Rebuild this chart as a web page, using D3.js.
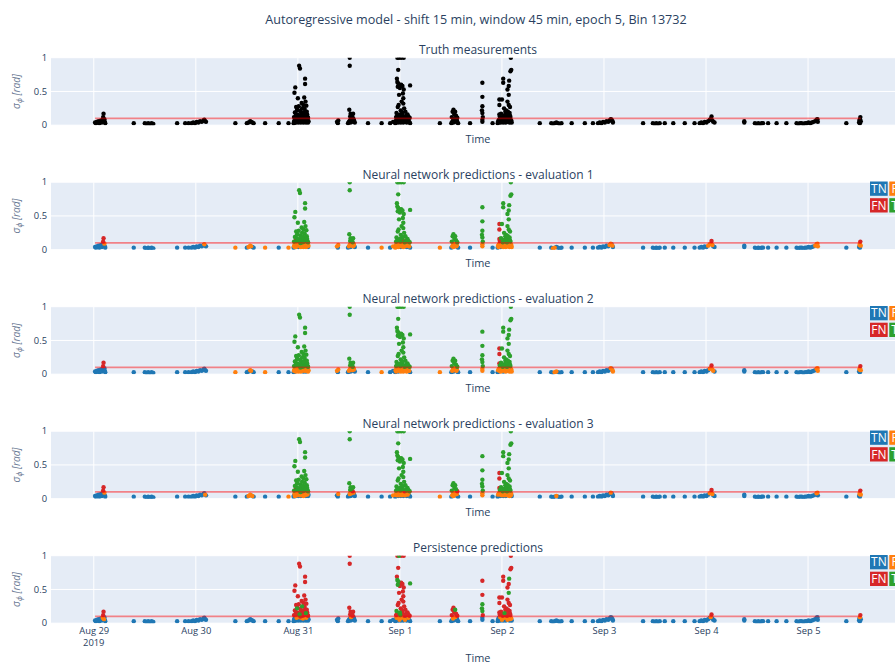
<!DOCTYPE html>
<html>
<head>
<meta charset="utf-8">
<script src="https://cdn.jsdelivr.net/npm/d3@7"></script>
<style>
  body { margin: 0; background: #fff; }
  svg { display: block; }
  text { font-family: "Open Sans", "Noto Sans", sans-serif; }
</style>
</head>
<body>
<svg id="chart" width="895" height="662"></svg>
<script>
// ---- chart text ----
const chartTitle = "Autoregressive model - shift 15 min, window 45 min, epoch 5, Bin 13732";
const panelTitles = [
  "Truth measurements",
  "Neural network predictions - evaluation 1",
  "Neural network predictions - evaluation 2",
  "Neural network predictions - evaluation 3",
  "Persistence predictions"
];
const threshold = 0.1;
const yTicks = [0, 0.5, 1];
const yTickLabels = ["0", "0.5", "1"];
const dayTicks = ["2019-08-29", "2019-08-30", "2019-08-31", "2019-09-01",
                  "2019-09-02", "2019-09-03", "2019-09-04", "2019-09-05"];

// outcome classes: code letter -> label / colour
const outcomeCodes = ["b", "o", "r", "g"];
const outcomeLabels = ["TN", "FP", "FN", "TP"];
const outcomeColors = ["#1f77b4", "#ff7f0e", "#d62728", "#2ca02c"];

// ---- samples: [hours after 2019-08-29 00:00 UTC, measured sigma_phi,
//      outcome in evaluation 1 / evaluation 2 / evaluation 3 / persistence] ----
const quietAug29 = [
  [0.3,0.04,"bbbb"],[0.5,0.03,"bbbb"],[0.7,0.05,"bbbb"],[0.9,0.04,"bbbb"],[1.1,0.06,"bbbb"],
  [1.3,0.03,"bbbb"],[1.5,0.05,"bbbb"],[1.7,0.07,"bbbb"],[1.9,0.04,"bbbb"],[2.1,0.08,"bbbo"],
  [2.2,0.12,"rrrr"],[2.3,0.17,"rrrr"],[2.4,0.06,"bbbo"],[2.5,0.09,"obob"],[2.6,0.05,"bbbb"],
  [2.7,0.03,"bbbb"],
  [9.4,0.03,"bbbb"],
  [12.0,0.03,"bbbb"],[12.4,0.02,"bbbb"],[12.8,0.03,"bbbb"],[13.2,0.02,"bbbb"],[13.6,0.03,"bbbb"],[14.0,0.02,"bbbb"],
  [19.6,0.03,"bbbb"],[21.5,0.03,"bbbb"],[22.3,0.03,"bbbb"],
  [23.0,0.03,"bbbb"],[23.4,0.04,"bbbb"],[23.8,0.03,"bbbb"],[24.2,0.05,"bbbb"],[24.6,0.04,"bbbb"],
  [25.0,0.06,"bbbb"],[25.4,0.05,"bbbb"],[25.8,0.07,"bbbb"],[26.0,0.08,"obbb"],[26.2,0.06,"bbob"],[26.4,0.05,"bbbb"],
  [33.3,0.03,"oobb"],
  [36.0,0.03,"bbbb"],[36.4,0.04,"obob"],[36.8,0.06,"ooob"],[37.0,0.05,"oobb"],[37.3,0.04,"bbob"],[37.6,0.03,"bbbb"],
  [40.3,0.03,"oobb"],[43.5,0.03,"bbbb"],[45.8,0.03,"obob"]
];

const stormAug31 = [
  [47.0,0.03,"bbbb"],[47.1,0.05,"oobb"],[47.1,0.12,"gggr"],[47.2,0.48,"gggr"],[47.2,0.07,"ooob"],
  [47.3,0.19,"gggr"],[47.3,0.04,"obob"],[47.4,0.56,"gggr"],[47.4,0.09,"ooob"],[47.5,0.14,"rgrr"],
  [47.5,0.04,"oobb"],[47.6,0.27,"gggr"],[47.6,0.06,"ooob"],[47.7,0.08,"oooo"],[47.7,0.13,"gggr"],
  [47.8,0.22,"gggg"],[47.8,0.05,"ooob"],[47.9,0.16,"gggr"],[47.9,0.23,"gggr"],[47.9,0.09,"oooo"],
  [48.0,0.07,"ooob"],[48.0,0.40,"gggr"],[48.1,0.15,"gggr"],[48.1,0.04,"bobb"],[48.2,0.28,"gggr"],
  [48.2,0.08,"ooob"],[48.3,0.88,"gggr"],[48.3,0.06,"ooob"],[48.4,0.13,"gggg"],[48.4,0.09,"oooo"],
  [48.5,0.84,"gggr"],[48.5,0.05,"ooob"],[48.6,0.21,"gggr"],[48.6,0.10,"gggr"],[48.6,0.07,"ooob"],
  [48.7,0.11,"gggr"],[48.7,0.04,"oobb"],[48.8,0.18,"gggr"],[48.8,0.08,"oooo"],[48.9,0.33,"gggr"],
  [48.9,0.14,"gggr"],[48.9,0.06,"ooob"],[49.0,0.25,"gggg"],[49.0,0.09,"ooob"],[49.1,0.11,"ggrr"],
  [49.1,0.05,"ooob"],[49.2,0.13,"gggr"],[49.2,0.07,"oooo"],[49.3,0.30,"gggr"],[49.3,0.19,"gggr"],
  [49.3,0.04,"obob"],[49.4,0.17,"gggr"],[49.4,0.08,"ooob"],[49.5,0.41,"gggr"],[49.5,0.12,"gggr"],
  [49.5,0.06,"ooob"],[49.6,0.24,"gggr"],[49.6,0.09,"oooo"],[49.7,0.69,"gggr"],[49.7,0.61,"gggr"],
  [49.7,0.05,"ooob"],[49.8,0.35,"gggr"],[49.8,0.07,"ooob"],[49.9,0.15,"gggg"],[49.9,0.04,"obbb"],
  [50.0,0.29,"gggr"],[50.0,0.08,"oooo"],[50.1,0.20,"gggr"],[50.1,0.06,"ooob"],[50.2,0.16,"gggr"],
  [50.2,0.05,"oobb"],[50.3,0.12,"gggr"],[50.3,0.07,"ooob"],[50.4,0.11,"gggr"],[50.4,0.04,"bobb"],
  [50.5,0.06,"oobb"],
  [57.2,0.05,"oobb"],[57.4,0.03,"bbbb"],[57.5,0.07,"ooob"]
];

const stormAug31Night = [
  [59.8,0.03,"bbbb"],[60.0,0.05,"oobb"],[60.1,0.23,"gggr"],[60.2,1.00,"gggr"],[60.2,0.88,"gggr"],
  [60.2,0.07,"ooob"],[60.3,0.13,"gggr"],[60.4,0.17,"gggr"],[60.4,0.04,"bbbb"],[60.5,0.09,"oooo"],
  [60.6,0.08,"ooob"],[60.7,0.15,"gggr"],[60.8,0.06,"oobb"],[60.9,0.11,"ggrr"],[61.0,0.05,"obbb"],
  [61.0,0.17,"gggr"],[61.1,0.09,"ooob"],[61.2,0.07,"oobb"],[61.4,0.04,"bbbb"],
  [64.5,0.03,"bbbb"],[67.7,0.03,"oobb"],[69.7,0.03,"bbbb"],[70.4,0.05,"obob"]
];

const stormSep1 = [
  [71.4,1.00,"gggr"],[71.8,1.00,"gggg"],[72.3,1.00,"gggr"],[72.9,1.00,"gggr"],[71.6,0.82,"gggr"],
  [71.3,0.69,"gggr"],[71.4,0.64,"gggg"],[71.6,0.62,"gggg"],[71.9,0.60,"gggr"],[72.3,0.60,"gggr"],
  [72.6,0.58,"gggr"],[74.4,0.59,"gggg"],[71.5,0.57,"gggg"],[72.0,0.55,"gggr"],[72.9,0.53,"gggr"],
  [72.7,0.47,"gggr"],[71.8,0.45,"gggr"],[72.8,0.40,"gggr"],[72.4,0.35,"gggr"],[71.7,0.30,"gggr"],
  [71.5,0.27,"gggr"],[72.8,0.32,"gggr"],[73.0,0.25,"gggr"],[72.2,0.22,"gggr"],[73.3,0.20,"gggr"],
  [71.2,0.18,"gggg"],[72.5,0.17,"gggr"],[73.8,0.16,"gggr"],[71.9,0.15,"gggg"],[72.7,0.14,"rggr"],
  [73.5,0.14,"gggr"],[74.0,0.13,"gggr"],[71.1,0.12,"gggr"],[72.1,0.12,"gggg"],[73.1,0.11,"ggrr"],
  [74.3,0.11,"gggr"],[71.3,0.13,"gggr"],[72.6,0.19,"gggr"],[73.6,0.12,"gggr"],[72.0,0.16,"gggg"],
  [70.9,0.03,"obbb"],[71.0,0.06,"ooob"],[71.1,0.04,"oobb"],[71.2,0.08,"oooo"],[71.3,0.05,"ooob"],
  [71.4,0.07,"ooob"],[71.5,0.09,"oooo"],[71.6,0.04,"obbb"],[71.7,0.06,"ooob"],[71.8,0.08,"ooob"],
  [71.9,0.05,"oooo"],[72.0,0.07,"ooob"],[72.1,0.09,"ooob"],[72.2,0.04,"bobb"],[72.3,0.06,"ooob"],
  [72.4,0.08,"oooo"],[72.5,0.05,"ooob"],[72.6,0.07,"ooob"],[72.7,0.09,"oooo"],[72.8,0.04,"oobb"],
  [72.9,0.06,"ooob"],[73.0,0.08,"ooob"],[73.2,0.05,"oooo"],[73.4,0.07,"ooob"],[73.6,0.04,"bobb"],
  [73.8,0.06,"ooob"],[74.0,0.08,"oooo"],[74.2,0.05,"oobb"],[74.4,0.03,"bbbb"],
  [81.4,0.03,"ooob"]
];

const stormSep1Night = [
  [84.1,0.03,"bbbb"],[84.2,0.12,"gggr"],[84.3,0.05,"ooob"],[84.4,0.20,"gggr"],[84.5,0.07,"oooo"],
  [84.6,0.23,"gggr"],[84.6,0.04,"obob"],[84.7,0.09,"ooob"],[84.8,0.16,"gggr"],[84.9,0.06,"ooob"],
  [85.0,0.20,"gggg"],[85.0,0.09,"oooo"],[85.1,0.08,"ooob"],[85.2,0.14,"gggr"],[85.3,0.05,"oobb"],
  [85.4,0.07,"ooob"],[85.5,0.11,"ggrr"],[85.5,0.04,"bbbb"],[85.7,0.03,"bbbb"],
  [88.5,0.03,"bbbb"],
  [91.4,0.63,"gggr"],[91.4,0.42,"gggr"],[91.4,0.28,"gggg"],[91.3,0.22,"gggg"],[91.4,0.18,"gggg"],
  [91.5,0.12,"gggr"],[91.4,0.08,"ooob"],[91.4,0.05,"ooob"],
  [93.8,0.03,"bbbb"]
];

const stormSep2 = [
  [98.1,1.00,"gggr"],[98.2,0.82,"gggr"],[98.0,0.80,"gggr"],[96.3,0.69,"gggr"],[96.3,0.63,"gggr"],
  [97.6,0.58,"gggr"],[97.3,0.53,"gggr"],[97.7,0.66,"gggg"],[97.6,0.45,"gggg"],[95.4,0.38,"rrrr"],
  [95.4,0.30,"rrrr"],[95.4,0.16,"rrrr"],[96.0,0.38,"gggr"],[97.3,0.35,"gggr"],[97.6,0.30,"gggr"],
  [97.9,0.27,"gggr"],[96.5,0.25,"gggr"],[97.0,0.22,"gggr"],[96.8,0.20,"gggr"],[97.8,0.18,"gggr"],
  [95.8,0.17,"gggr"],[96.6,0.15,"gggg"],[97.5,0.14,"gggr"],[95.5,0.13,"rggr"],[96.9,0.12,"gggr"],
  [98.0,0.12,"gggr"],[96.2,0.11,"gggr"],[97.2,0.11,"gggr"],[97.1,0.16,"gggr"],[96.4,0.13,"gggr"],
  [97.4,0.20,"gggr"],[97.9,0.14,"gggr"],
  [95.0,0.03,"bbbb"],[95.1,0.06,"ooob"],[95.2,0.04,"obbb"],[95.3,0.08,"ooob"],[95.4,0.05,"oobb"],
  [95.5,0.07,"ooob"],[95.6,0.09,"oooo"],[95.7,0.04,"bobb"],[95.8,0.06,"ooob"],[95.9,0.08,"ooob"],
  [96.0,0.05,"oooo"],[96.1,0.07,"ooob"],[96.2,0.09,"ooob"],[96.3,0.04,"obbb"],[96.4,0.06,"ooob"],
  [96.5,0.08,"oooo"],[96.6,0.05,"ooob"],[96.7,0.07,"ooob"],[96.8,0.09,"oooo"],[96.9,0.04,"oobb"],
  [97.0,0.06,"ooob"],[97.1,0.08,"ooob"],[97.3,0.05,"oooo"],[97.5,0.07,"ooob"],[97.7,0.09,"oooo"],
  [97.8,0.04,"ooob"],[97.9,0.06,"oooo"],[98.0,0.08,"oooo"],[98.1,0.05,"ooob"],[98.2,0.07,"oooo"],
  [98.3,0.04,"oobb"]
];

const quietSep2to5 = [
  [104.9,0.03,"bbbb"],
  [107.6,0.03,"bbbb"],[108.0,0.02,"obbb"],[108.4,0.03,"oobb"],[108.8,0.04,"boob"],[109.2,0.03,"bbbb"],
  [109.6,0.02,"bbbb"],[110.0,0.03,"bbbb"],
  [112.4,0.03,"bbbb"],[115.5,0.03,"bbbb"],[117.4,0.03,"bbbb"],
  [118.6,0.03,"bbbb"],[119.0,0.04,"bbbb"],[119.4,0.03,"bbbb"],[119.8,0.05,"bbbb"],[120.2,0.04,"bbbb"],
  [120.6,0.06,"bbbb"],[121.0,0.05,"bbbb"],[121.3,0.07,"obbb"],[121.6,0.09,"ooob"],[121.8,0.08,"bbbb"],
  [122.0,0.06,"oobb"],[122.1,0.04,"bobb"],
  [129.2,0.03,"bbbb"],
  [131.5,0.03,"bbbb"],[131.9,0.02,"bbbb"],[132.3,0.03,"bbbb"],[132.7,0.02,"bbbb"],[133.1,0.03,"bbbb"],
  [134.3,0.03,"bbbb"],[136.3,0.03,"bbbb"],[139.0,0.03,"bbbb"],[141.3,0.03,"bbbb"],
  [142.5,0.03,"bbbb"],[142.9,0.04,"bbbb"],[143.3,0.03,"bbbb"],[143.7,0.05,"bbbb"],[144.1,0.04,"bbbb"],
  [144.5,0.06,"obbb"],[144.9,0.08,"ooob"],[145.1,0.09,"oooo"],[145.3,0.13,"rrrr"],[145.5,0.07,"ooob"],
  [145.7,0.05,"bobb"],[146.0,0.04,"bbbb"],
  [153.0,0.04,"bbbb"],[153.0,0.06,"bbbb"],
  [155.5,0.03,"bbbb"],[155.9,0.02,"bbbb"],[156.3,0.03,"bbbb"],[156.7,0.02,"bbbb"],[157.1,0.03,"bbbb"],
  [157.4,0.03,"bbbb"],
  [158.6,0.03,"bbbb"],[160.6,0.03,"bbbb"],[162.9,0.03,"bbbb"],
  [165.3,0.03,"bbbb"],[165.7,0.02,"bbbb"],[166.1,0.03,"bbbb"],[166.5,0.03,"bbbb"],[166.9,0.02,"bbbb"],
  [167.3,0.03,"bbbb"],[167.7,0.03,"bbbb"],[168.1,0.04,"bbbb"],[168.5,0.03,"bbbb"],[168.9,0.04,"bbbb"],
  [169.3,0.05,"bbbb"],[169.7,0.06,"obbb"],[170.0,0.08,"ooob"],[170.2,0.09,"ooob"],[170.3,0.05,"oobb"],
  [177.0,0.03,"bbbb"],
  [180.0,0.04,"bbbb"],[180.1,0.07,"ooob"],[180.2,0.09,"oooo"],[180.3,0.12,"rrrr"],[180.4,0.06,"ooob"],
  [180.2,0.03,"bbbb"]
];

// ---- assemble ----
const HOUR = 3600 * 1000;
const t0 = Date.UTC(2019, 7, 29);
const samples = [].concat(quietAug29, stormAug31, stormAug31Night, stormSep1,
                          stormSep1Night, stormSep2, quietSep2to5)
  .map(d => ({ time: new Date(t0 + d[0] * HOUR), value: d[1], codes: d[2] }));

// ---- layout ----
const svg = d3.select("#chart");
const plotLeft = 51, plotRight = 905;
const panelHeight = 67.5;
const panelTop0 = 57.7, panelStep = 124.5;

const timeExtent = d3.extent(samples, d => d.time);
const x = d3.scaleUtc()
  .domain([new Date(t0 - 10.06 * HOUR), new Date(t0 + 190.8 * HOUR)])
  .range([plotLeft, plotRight]);

const textColor = "#2a3f5f";

svg.append("text")
  .attr("x", 476).attr("y", 23.5)
  .attr("text-anchor", "middle")
  .attr("font-size", 12.6)
  .attr("fill", textColor)
  .text(chartTitle);

const defs = svg.append("defs");

panelTitles.forEach((title, p) => {
  const top = panelTop0 + p * panelStep;
  const bottom = top + panelHeight;
  const y = d3.scaleLinear().domain([0, 1]).range([bottom, top]);
  const g = svg.append("g");

  defs.append("clipPath").attr("id", "clip" + p)
    .append("rect")
    .attr("x", plotLeft).attr("y", top)
    .attr("width", plotRight - plotLeft).attr("height", panelHeight);

  // background and grid
  g.append("rect")
    .attr("x", plotLeft).attr("y", top)
    .attr("width", plotRight - plotLeft).attr("height", panelHeight)
    .attr("fill", "#e5ecf6");

  const dayDates = dayTicks.map(s => new Date(s + "T00:00:00Z"));
  g.append("g").selectAll("line").data(dayDates).join("line")
    .attr("x1", d => x(d)).attr("x2", d => x(d))
    .attr("y1", top).attr("y2", bottom)
    .attr("stroke", "#fff").attr("stroke-width", 1);
  g.append("g").selectAll("line").data(yTicks).join("line")
    .attr("x1", plotLeft).attr("x2", plotRight)
    .attr("y1", d => y(d)).attr("y2", d => y(d))
    .attr("stroke", "#fff").attr("stroke-width", 1);

  // y tick labels
  g.append("g").selectAll("text").data(yTicks).join("text")
    .attr("x", plotLeft - 4).attr("y", d => y(d))
    .attr("dy", "0.35em")
    .attr("text-anchor", "end")
    .attr("font-size", 9.4)
    .attr("fill", textColor)
    .text((d, i) => yTickLabels[i]);

  // y axis title: sigma_phi [rad]
  const yl = g.append("text")
    .attr("transform", `translate(20,${(top + bottom) / 2}) rotate(-90)`)
    .attr("text-anchor", "middle")
    .attr("font-family", "DejaVu Serif, serif")
    .attr("font-style", "italic")
    .attr("font-size", 10.2)
    .attr("fill", "#6b7a94");
  yl.append("tspan").text("σ");
  yl.append("tspan").attr("dy", 2.2).attr("font-size", 7.2).text("ϕ");
  yl.append("tspan").attr("dy", -2.2).text(" [rad]");

  // markers
  const pts = g.append("g").attr("clip-path", `url(#clip${p})`);
  if (p === 0) {
    pts.selectAll("circle").data(samples).join("circle")
      .attr("cx", d => x(d.time)).attr("cy", d => y(d.value))
      .attr("r", 2.2).attr("fill", "#000");
  } else {
    outcomeCodes.forEach((code, k) => {
      const sub = samples.filter(d => d.codes[p - 1] === code);
      pts.append("g").selectAll("circle").data(sub).join("circle")
        .attr("cx", d => x(d.time)).attr("cy", d => y(d.value))
        .attr("r", 2.2).attr("fill", outcomeColors[k]);
    });
  }

  // threshold line over the measured time span
  pts.append("line")
    .attr("x1", x(timeExtent[0])).attr("x2", x(timeExtent[1]))
    .attr("y1", y(threshold)).attr("y2", y(threshold))
    .attr("stroke", "red").attr("stroke-opacity", 0.45)
    .attr("stroke-width", 1.8);

  // panel title
  g.append("text")
    .attr("x", 478).attr("y", top - 3.5)
    .attr("text-anchor", "middle")
    .attr("font-size", 12)
    .attr("fill", textColor)
    .text(title);

  // x axis title
  const isLast = p === panelTitles.length - 1;
  g.append("text")
    .attr("x", 478).attr("y", isLast ? 661.5 : bottom + 17.5)
    .attr("text-anchor", "middle")
    .attr("font-size", 10.9)
    .attr("fill", textColor)
    .text("Time");

  if (isLast) {
    const axis = d3.axisBottom(x)
      .tickValues(dayDates)
      .tickSize(0)
      .tickPadding(4)
      .tickFormat(d3.utcFormat("%b %-d"));
    const ax = g.append("g").attr("transform", `translate(0,${bottom})`).call(axis);
    ax.select(".domain").remove();
    ax.selectAll("text")
      .attr("font-size", 9.4)
      .attr("fill", textColor)
      .attr("font-family", "\"Open Sans\", sans-serif");
    ax.append("text")
      .attr("x", x(dayDates[0])).attr("y", 22.5)
      .attr("text-anchor", "middle")
      .attr("font-size", 9.4)
      .attr("fill", textColor)
      .text("2019");
  }

  // outcome key boxes: TN FP / FN TP
  if (p > 0) {
    const bw = 17.7, bh = 14.3;
    outcomeLabels.forEach((lab, k) => {
      const col = k % 2, row = Math.floor(k / 2);
      const bx = 870 + col * (bw + 1.6);
      const by = top - 0.7 + row * (bh + 2.4);
      g.append("rect")
        .attr("x", bx).attr("y", by)
        .attr("width", bw).attr("height", bh)
        .attr("fill", outcomeColors[k]);
      g.append("text")
        .attr("x", bx + bw / 2).attr("y", by + bh / 2)
        .attr("dy", "0.36em")
        .attr("text-anchor", "middle")
        .attr("font-size", 12)
        .attr("fill", "#fff")
        .text(lab);
    });
  }
});
</script>
</body>
</html>
